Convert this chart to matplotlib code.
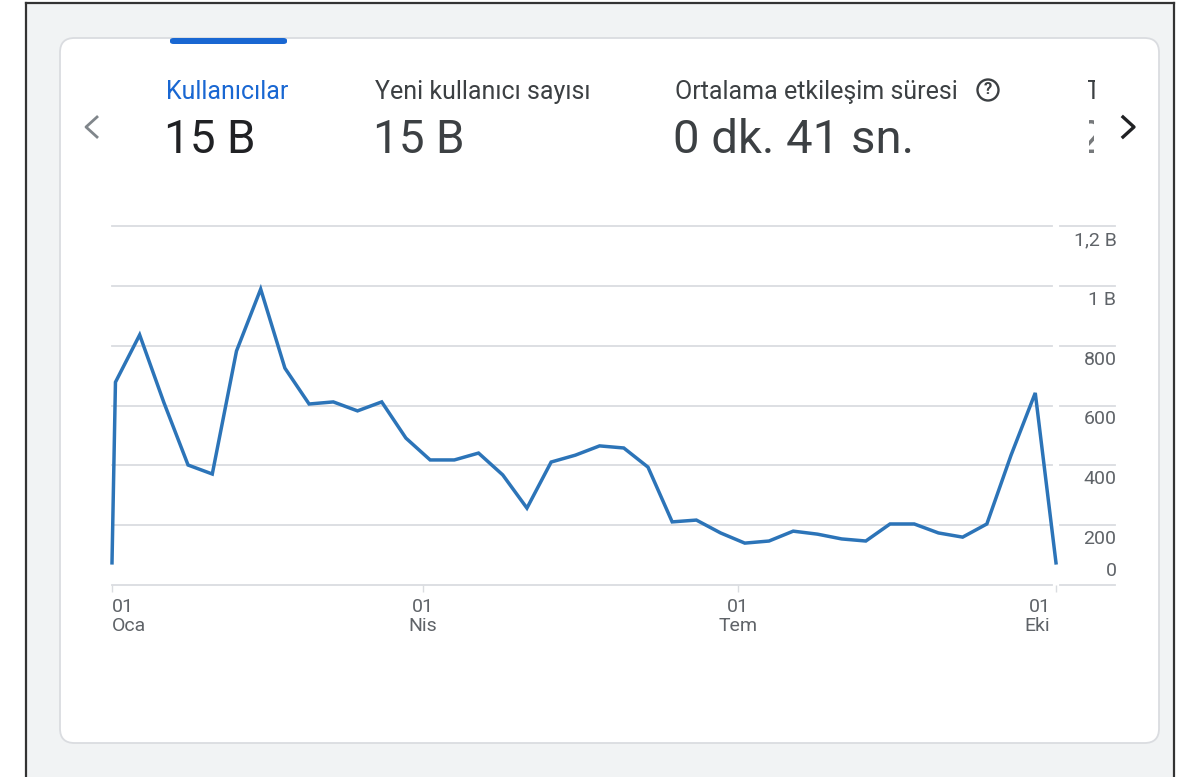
import numpy as np
import pandas as pd
import matplotlib
matplotlib.use("Agg")
import matplotlib.pyplot as plt
import matplotlib.dates as mdates
from matplotlib.patches import FancyBboxPatch, Ellipse, Rectangle
from matplotlib.lines import Line2D
from matplotlib.transforms import Bbox, TransformedBbox

plt.rcParams['font.family'] = ['Roboto', 'DejaVu Sans']

# data: weekly users (GA style)
dates = ([pd.Timestamp('2023-01-01')]
         + list(pd.date_range('2023-01-02', periods=39, freq='7D'))
         + [pd.Timestamp('2023-10-01')])
users = [74, 678, 836, 610, 401, 371, 782, 989, 725, 605,
         612, 582, 612, 491, 418, 418, 441, 368, 257, 411,
         434, 465, 458, 394, 211, 217, 174, 140, 147, 180,
         170, 154, 147, 204, 204, 174, 160, 204, 434, 642,
         74]
yticks = [0, 200, 400, 600, 800, 1000, 1200]
ylabels = ['0', '200', '400', '600', '800', '1 B', '1,2 B']
xticks = ['2023-01-01', '2023-04-01', '2023-07-01', '2023-10-01']
xlabels = ['01\nOca', '01\nNis', '01\nTem', '01\nEki']

W, H = 1201, 777
def fx(x): return x / W
def fy(y): return 1 - y / H

fig = plt.figure(figsize=(W / 100, H / 100), dpi=100)
fig.patch.set_facecolor('white')

# page background + screenshot border
fig.patches.append(Rectangle((fx(26), 0), fx(1174) - fx(26), fy(3), transform=fig.transFigure,
                             facecolor='#f1f3f4', edgecolor='none', zorder=0))
for xs, ys in [([26, 26], [777, 3]), ([1174, 1174], [777, 3]), ([26, 1174], [3, 3])]:
    fig.lines.append(Line2D([fx(v) for v in xs], [fy(v) for v in ys],
                            transform=fig.transFigure, color='#333333', lw=1.6))

# card
fig.patches.append(FancyBboxPatch((fx(60), fy(743)), fx(1159) - fx(60), fy(38) - fy(743),
                                  boxstyle='round,pad=0,rounding_size=0.012', transform=fig.transFigure,
                                  facecolor='white', edgecolor='#dadce0', lw=1.3, zorder=1,
                                  mutation_aspect=W / H))
# active tab indicator
fig.patches.append(FancyBboxPatch((fx(170), fy(44)), fx(287) - fx(170), fy(38) - fy(44),
                                  boxstyle='round,pad=0,rounding_size=0.003', transform=fig.transFigure,
                                  facecolor='#1967d2', edgecolor='none', zorder=2))

# header metrics
fig.text(fx(166), fy(92), 'Kullanıcılar', color='#1967d2', fontsize=18, va='center')
fig.text(fx(164), fy(140), '15 B', color='#202124', fontsize=33, va='center')
fig.text(fx(375), fy(92), 'Yeni kullanıcı sayısı', color='#3c4043', fontsize=18, va='center')
fig.text(fx(373), fy(140), '15 B', color='#3c4043', fontsize=33, va='center')
fig.text(fx(675), fy(92), 'Ortalama etkileşim süresi', color='#3c4043', fontsize=18, va='center')
fig.text(fx(673), fy(140), '0 dk. 41 sn.', color='#3c4043', fontsize=34, va='center')
fig.patches.append(Ellipse((fx(988), fy(90)), 21 / W, 21 / H, transform=fig.transFigure,
                           facecolor='none', edgecolor='#3c4043', lw=1.7))
fig.text(fx(988), fy(90), '?', color='#3c4043', fontsize=12, fontweight='bold', ha='center', va='center')

# clipped next metric
clip = TransformedBbox(Bbox.from_extents(fx(1088), 0, fx(1095), 1), fig.transFigure)
t1 = fig.text(fx(1085), fy(92), 'Toplam', color='#3c4043', fontsize=18, va='center')
t1.set_clip_box(clip)
t2 = fig.text(fx(1078), fy(140), '2', color='#3c4043', fontsize=33, va='center', alpha=0.7)
t2.set_clip_box(TransformedBbox(Bbox.from_extents(fx(1089), 0, fx(1094), 1), fig.transFigure))

# arrows
fig.lines.append(Line2D([fx(97), fx(86), fx(97)], [fy(117), fy(127), fy(137)],
                        transform=fig.transFigure, color='#80868b', lw=2))
fig.lines.append(Line2D([fx(1123), fx(1134), fx(1123)], [fy(117), fy(127), fy(137)],
                        transform=fig.transFigure, color='#202124', lw=2.4))

# chart
ax = fig.add_axes([fx(112), fy(585), fx(1056) - fx(112), fy(226) - fy(585)])
ax.set_zorder(3)
ax.patch.set_visible(False)
ax.set_xlim(pd.Timestamp('2023-01-01'), pd.Timestamp('2023-10-01'))
ax.set_ylim(0, 1200)
for s in ax.spines.values():
    s.set_visible(False)

ytr = ax.get_yaxis_transform()
for v in yticks:
    c = '#dadce0'
    ax.plot([0, 0.996], [v, v], transform=ytr, color=c, lw=1.3, clip_on=False, zorder=1)
    ax.plot([1.004, 1.062], [v, v], transform=ytr, color=c, lw=1.3, clip_on=False, zorder=1)

ax.plot(dates, users, color='#2c74b8', lw=2.5, zorder=3, clip_on=False, solid_joinstyle='miter')

ax.set_yticks([])
for v, lab in zip(yticks, ylabels):
    off = 10 if v == 0 else -10
    ax.annotate(lab, (1.064, v), xycoords=ytr, xytext=(0, off), textcoords='offset points',
                ha='right', va='center', fontsize=14, color='#5f6368')

xt = [pd.Timestamp(d) for d in xticks]
ax.set_xticks(xt)
ax.set_xticklabels([])
ax.tick_params(axis='x', length=5, width=1, color='#dadce0', direction='out')
has = ['left', 'center', 'center', 'right']
dx = [0, 0, 0, -4]
xtr = ax.get_xaxis_transform()
for d, lab, ha, o in zip(xt, xlabels, has, dx):
    ax.annotate(lab, (mdates.date2num(d), 0), xycoords=xtr, xytext=(o, -9), textcoords='offset points',
                ha=ha, va='top', fontsize=14, color='#5f6368', linespacing=1.1)

fig.savefig('out.png', dpi=100)
